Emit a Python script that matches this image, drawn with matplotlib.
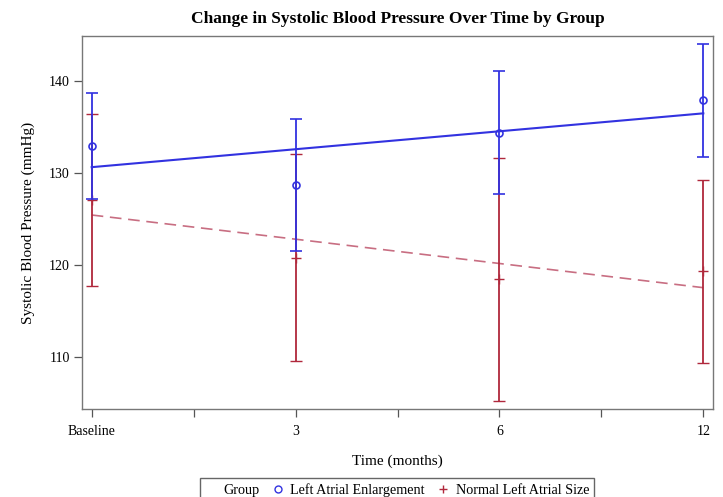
import matplotlib
matplotlib.use("Agg")
import matplotlib.pyplot as plt
from matplotlib.lines import Line2D

plt.rcParams['font.family'] = ['Liberation Serif', 'DejaVu Serif']

# ---- data ----
time_labels = ["Baseline", "3", "6", "12"]
x_pos = [0, 1, 2, 3]

lae_mean = [132.9, 128.65, 134.3, 137.85]
lae_lower = [127.1, 121.5, 127.65, 131.7]
lae_upper = [138.7, 135.8, 141.0, 144.0]
lae_fit = [130.6, 132.55, 134.5, 136.45]

nla_mean = [127.0, 120.75, 118.4, 119.3]
nla_lower = [117.7, 109.5, 105.2, 109.35]
nla_upper = [136.35, 132.0, 131.6, 129.2]
nla_fit = [125.4, 122.77, 120.13, 117.5]

blue = "#3232E0"
red = "#B0283C"
pink = "#C86E82"

fig = plt.figure(figsize=(7.23, 4.97), dpi=100)
ax = fig.add_axes([82.3 / 723, 1 - 409.3 / 497, (712.7 - 82.3) / 723, (409.3 - 35.7) / 497])

# Normal left atrial size (red)
nla_err = [[m - l for m, l in zip(nla_mean, nla_lower)], [u - m for m, u in zip(nla_mean, nla_upper)]]
ax.errorbar(x_pos, nla_mean, yerr=nla_err, fmt='+', color=red, ecolor=red,
            elinewidth=1.3, capsize=4, capthick=1.3, markersize=7, markeredgewidth=1.0, zorder=3)
ax.plot(x_pos, nla_fit, color=pink, lw=1.2, ls=(0, (7, 4)), zorder=2)

# Left atrial enlargement (blue)
lae_err = [[m - l for m, l in zip(lae_mean, lae_lower)], [u - m for m, u in zip(lae_mean, lae_upper)]]
ax.errorbar(x_pos, lae_mean, yerr=lae_err, fmt='o', color=blue, ecolor=blue, mfc='none',
            elinewidth=1.3, capsize=4, capthick=1.3, markersize=5, markeredgewidth=1.2, zorder=4)
ax.plot(x_pos, lae_fit, color=blue, lw=1.5, zorder=4)

ax.set_xlim(-0.046, 3.046)
ax.set_ylim(104.28, 144.89)
ax.set_xticks(x_pos)
ax.set_xticklabels(time_labels)
ax.set_xticks([0.5, 1.5, 2.5], minor=True)
ax.set_yticks([110, 120, 130, 140])
ax.tick_params(axis='both', which='both', labelsize=10, color='#555555', width=0.9)
ax.tick_params(axis='x', which='both', length=6, pad=5)
ax.tick_params(axis='y', length=6, pad=3)
for s in ax.spines.values():
    s.set_color('#777777')
    s.set_linewidth(1.0)

ax.set_xlabel("Time (months)", fontsize=11, labelpad=12)
ax.set_ylabel("Systolic Blood Pressure (mmHg)", fontsize=11, labelpad=10)
ax.set_title("Change in Systolic Blood Pressure Over Time by Group", fontsize=12.5,
             fontweight='bold', pad=9)

handles = [Line2D([], [], ls='none', marker=None),
           Line2D([], [], ls='none', marker='o', mfc='none', mec=blue, markersize=5),
           Line2D([], [], ls='none', marker='+', color=red, markersize=6)]
labels = ["Group", "Left Atrial Enlargement", "Normal Left Atrial Size"]
leg = fig.legend(handles, labels, ncol=3, loc='upper center',
                 bbox_to_anchor=(397 / 723, 1 - 478 / 497), frameon=True, fancybox=False,
                 edgecolor='#666666', framealpha=1, fontsize=10.2,
                 handlelength=0.8, handletextpad=0.5, columnspacing=0.9,
                 borderpad=0.35, borderaxespad=0)
leg.get_frame().set_linewidth(1.0)

fig.savefig("out.png", dpi=100)
